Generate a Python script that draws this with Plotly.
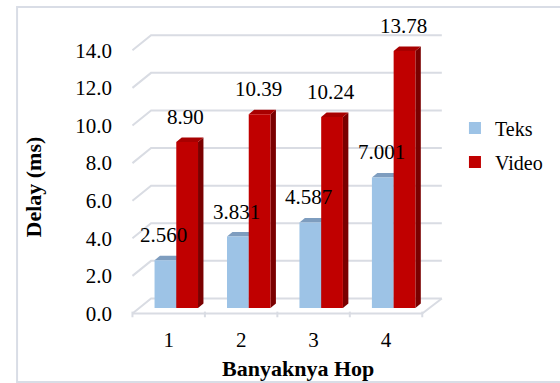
import plotly.graph_objects as go

# Average delay per hop count
hops = [1, 2, 3, 4]
hop_labels = ["1", "2", "3", "4"]
teks = [2.560, 3.831, 4.587, 7.001]
video = [8.90, 10.39, 10.24, 13.78]
teks_text = ["2.560", "3.831", "4.587", "7.001"]
video_text = ["8.90", "10.39", "10.24", "13.78"]
y_ticks = [0, 2, 4, 6, 8, 10, 12, 14]

FONT = "'Liberation Serif', 'Times New Roman', Times, serif"
TEKS_C, TEKS_TOP, TEKS_SIDE = "#9DC3E6", "#7E9DBF", "#6F8DAE"
VID_C, VID_TOP, VID_SIDE = "#C00000", "#A80000", "#7A0000"
GRID = "#D9DCE3"

BAR_W = 0.30
OFF_T, OFF_V = -0.195, 0.105
DX, DY = 0.075, 0.24          # depth of the pseudo-3D faces (x units, y2 units)
WALL_X0, WALL_X1, WALL_XR = 0.5, 0.757, 4.77   # front edge, back wall start, back wall end
WALL_DY = 0.8                 # back wall offset in y units

fig = go.Figure()
fig.add_trace(go.Bar(x=hops, y=teks, name="Teks", legendgroup="teks",
                     marker=dict(color=TEKS_C, line_width=0),
                     width=BAR_W, offset=OFF_T, yaxis="y2"))
fig.add_trace(go.Bar(x=hops, y=video, name="Video", legendgroup="video",
                     marker=dict(color=VID_C, line_width=0),
                     width=BAR_W, offset=OFF_V, yaxis="y2"))

shapes = []
# back wall gridlines with the receding floor edge
for v in y_ticks:
    shapes.append(dict(type="path", xref="x", yref="y", layer="below",
                       path=f"M{WALL_X0},{v} L{WALL_X1},{v + WALL_DY} L{WALL_XR},{v + WALL_DY}",
                       line=dict(color=GRID, width=2)))
# floor right edge and front axis line with tick marks
shapes.append(dict(type="line", xref="x", yref="y", layer="below",
                   x0=4.5, y0=0, x1=WALL_XR, y1=WALL_DY, line=dict(color=GRID, width=2)))
shapes.append(dict(type="line", xref="x", yref="y", layer="below",
                   x0=0.5, y0=0, x1=4.5, y1=0, line=dict(color=GRID, width=2)))
for t in [0.5, 1.5, 2.5, 3.5, 4.5]:
    shapes.append(dict(type="line", xref="x", yref="y", layer="below",
                       x0=t, y0=0.1, x1=t, y1=-0.2, line=dict(color=GRID, width=2)))

# top and side faces of every bar
def faces(values, off, top_c, side_c):
    out = []
    for h, v in zip(hops, values):
        xl, xr = h + off, h + off + BAR_W
        out.append(dict(type="path", xref="x", yref="y2", layer="below",
                        path=f"M{xr},0 L{xr + DX},{DY} L{xr + DX},{v + DY} L{xr},{v} Z",
                        fillcolor=side_c, line_width=0))
        out.append(dict(type="path", xref="x", yref="y2", layer="below",
                        path=f"M{xl},{v} L{xl + DX},{v + DY} L{xr + DX},{v + DY} L{xr},{v} Z",
                        fillcolor=top_c, line_width=0))
    return out

shapes += faces(teks, OFF_T, TEKS_TOP, TEKS_SIDE)
shapes += faces(video, OFF_V, VID_TOP, VID_SIDE)

# chart frame
shapes.append(dict(type="rect", xref="paper", yref="paper", layer="below",
                   x0=-0.364, y0=-0.207, x1=1.5, y1=1.043,
                   line=dict(color="#D9DDE6", width=2)))

annotations = []
for h, v, s in zip(hops, teks, teks_text):
    annotations.append(dict(x=h + OFF_T + BAR_W / 2 - 0.02, y=v, xref="x", yref="y2",
                            text=s, showarrow=False, yanchor="middle", yshift=25,
                            font=dict(family=FONT, size=21, color="black")))
for h, v, s in zip(hops, video, video_text):
    annotations.append(dict(x=h + OFF_V + BAR_W / 2 - 0.02, y=v, xref="x", yref="y2",
                            text=s, showarrow=False, yanchor="middle", yshift=25,
                            font=dict(family=FONT, size=21, color="black")))
# axis titles
annotations.append(dict(x=0.533, y=-0.163, xref="paper", yref="paper", text="<b>Banyaknya Hop</b>",
                        showarrow=False, yanchor="middle", xanchor="center",
                        font=dict(family=FONT, size=22, color="black")))
annotations.append(dict(x=-0.31, y=0.445, xref="paper", yref="paper", text="<b>Delay (ms)</b>",
                        showarrow=False, textangle=-90, yanchor="middle", xanchor="center",
                        font=dict(family=FONT, size=22, color="black")))

fig.update_layout(
    width=560, height=383,
    margin=dict(l=131, r=91, t=20, b=63),
    paper_bgcolor="white", plot_bgcolor="white",
    font=dict(family=FONT, size=20, color="black"),
    showlegend=True,
    legend=dict(x=1.035, y=0.705, xanchor="left", yanchor="top", tracegroupgap=5,
                font=dict(family=FONT, size=20, color="black"), bgcolor="rgba(0,0,0,0)"),
    xaxis=dict(range=[0.48, 4.8], tickvals=hops, ticktext=hop_labels, showgrid=False,
               zeroline=False, showline=False, ticks="", ticklabelstandoff=5,
               tickfont=dict(family=FONT, size=21, color="black")),
    yaxis=dict(range=[-0.3457, 15.612], tickvals=y_ticks, tickformat=".1f", showgrid=False,
               zeroline=False, showline=False, ticks="", ticklabelstandoff=18,
               tickfont=dict(family=FONT, size=21, color="black")),
    yaxis2=dict(range=[-0.6434, 15.442], overlaying="y", visible=False),
    shapes=shapes,
    annotations=annotations,
)

fig.write_html("out.html")
